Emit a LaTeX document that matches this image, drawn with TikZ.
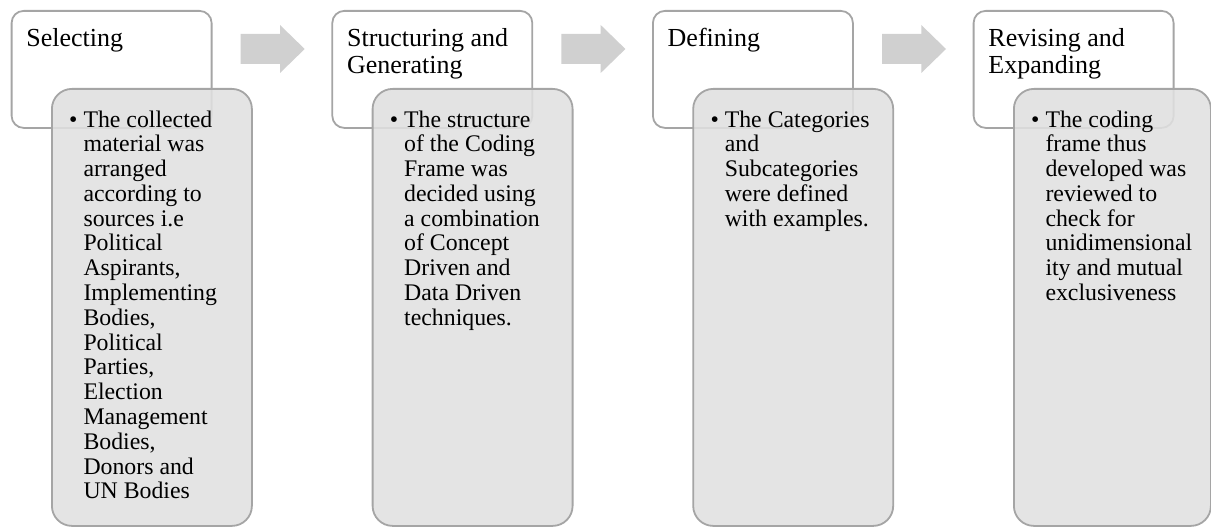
\documentclass[tikz,border=0pt]{standalone}
\usepackage{fontspec}
\setmainfont{Liberation Serif}
\definecolor{boxline}{HTML}{A5A5A5}
\definecolor{boxfill}{HTML}{E0E0E0}
\definecolor{arrowfill}{HTML}{D0D0D0}
\newcommand{\toplines}[1]{\begin{tabular}[t]{@{}l@{}}#1\end{tabular}}
\tikzset{
  headbox/.style={draw=boxline, line width=1.8pt, fill=white, rounded corners=12pt,
    anchor=north west, minimum width=200pt, minimum height=117pt, inner sep=0pt},
  bodybox/.style={draw=boxline, line width=1.8pt, fill=boxfill, fill opacity=0.88, rounded corners=20pt,
    anchor=north west, minimum height=437pt, inner sep=0pt},
  headtext/.style={anchor=base west, inner sep=0pt, font=\fontsize{26}{27}\selectfont},
  bodytext/.style={anchor=base west, inner sep=0pt, font=\fontsize{23.8}{24.8}\selectfont},
  bulletmark/.style={anchor=base west, inner sep=0pt, font=\fontsize{23.8}{24.8}\selectfont},
  flowarrow/.style={fill=arrowfill, draw=none},
}
\begin{document}
\begin{tikzpicture}[x=1pt,y=-1pt]
\useasboundingbox (0,0) rectangle (1211,527);
% top boxes
\node[headbox] (h1) at (10.7,10) {};
\node[headbox] (h2) at (331.4,10) {};
\node[headbox] (h3) at (652.0,10) {};
\node[headbox] (h4) at (972.7,10) {};
% lower boxes
\node[bodybox, minimum width=200pt] (b1) at (51.0,88) {};
\node[bodybox, minimum width=200pt] (b2) at (371.7,88) {};
\node[bodybox, minimum width=200pt] (b3) at (692.3,88) {};
\node[bodybox, minimum width=197pt] (b4) at (1013.0,88) {};
% arrows
\foreach \x [count=\i] in {240.7,561.4,882.0}{
  \coordinate (a\i) at (\x,49);
  \fill[flowarrow] (\x,34) -- (\x+39.3,34) -- (\x+39.3,25) -- (\x+64,49)
     -- (\x+39.3,73) -- (\x+39.3,64) -- (\x,64) -- cycle;
}
% headings
\node[headtext] (t1) at (26.2,47) {\toplines{Selecting}};
\node[headtext] (t2) at (346.9,47) {\toplines{Structuring and\\Generating}};
\node[headtext] (t3) at (667.5,47) {\toplines{Defining}};
\node[headtext] (t4) at (988.2,47) {\toplines{Revising and\\Expanding}};
% bullets
\node[bulletmark] (m1) at (69.0,127) {•};
\node[bulletmark] (m2) at (389.7,127) {•};
\node[bulletmark] (m3) at (710.3,127) {•};
\node[bulletmark] (m4) at (1031.0,127) {•};
% body texts
\node[bodytext] (c1) at (83.3,127) {\toplines{The collected\\material was\\arranged\\according to\\sources i.e\\Political\\Aspirants,\\Implementing\\Bodies,\\Political\\Parties,\\Election\\Management\\Bodies,\\Donors and\\UN Bodies}};
\node[bodytext] (c2) at (404.0,127) {\toplines{The structure\\of the Coding\\Frame was\\decided using\\a combination\\of Concept\\Driven and\\Data Driven\\techniques.}};
\node[bodytext] (c3) at (724.6,127) {\toplines{The Categories\\and\\Subcategories\\were defined\\with examples.}};
\node[bodytext] (c4) at (1045.3,127) {\toplines{The coding\\frame thus\\developed was\\reviewed to\\check for\\unidimensional\\ity and mutual\\exclusiveness}};
\end{tikzpicture}
\end{document}
